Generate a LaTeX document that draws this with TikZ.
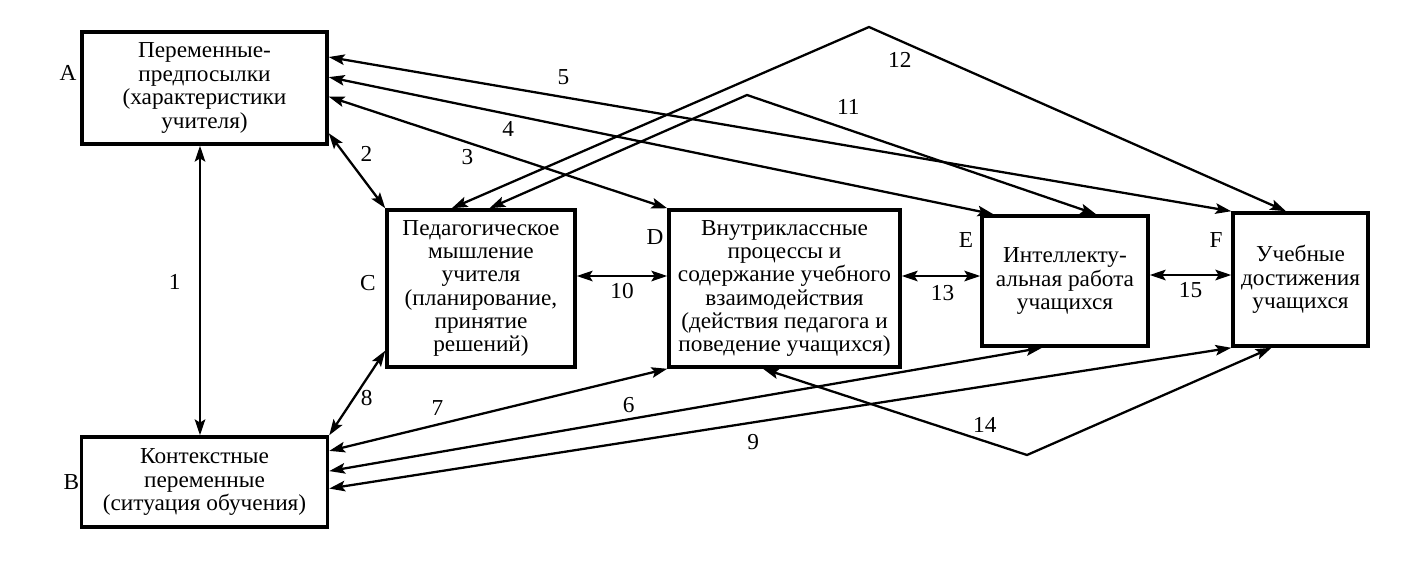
\documentclass[tikz,border=0pt]{standalone}
\usepackage{fontspec}
\setmainfont{Liberation Serif}[FakeStretch=1.02]
\usetikzlibrary{arrows.meta}
\usetikzlibrary{positioning}

\begin{document}
\begin{tikzpicture}[auto, node distance = 1cm, on grid, font = \fontsize{13}{13.3}\selectfont, >={Stealth[length = 9pt, width = 6pt, inset = 1.8pt]}, box/.style = {rectangle, draw, line width = 2pt, align = center, inner sep = 0pt}, link/.style = {<->, line width = 1.3pt}]
	\useasboundingbox (-4.09,1.76) rectangle (24.47,-9.58);
	\node[box, minimum width = 4.9cm, minimum height = 2.24cm] (A) {Переменные-\\предпосылки\\(характеристики\\учителя)};
	\node[box, minimum width = 4.92cm, minimum height = 1.8cm] (B) [below = 7.88cm of A] {Контекстные\\переменные\\(ситуация обучения)};
	\node[box, minimum width = 3.76cm, minimum height = 3.14cm] (C) [below right = 4.01cm and 5.53cm of A] {Педагогическое\\мышление\\учителя\\(планирование,\\принятие\\решений)};
	\node[box, minimum width = 4.62cm, minimum height = 3.14cm] (D) [right = 6.07cm of C] {Внутриклассные\\процессы и\\содержание учебного\\взаимодействия\\(действия педагога и\\поведение учащихся)};
	\node[box, minimum width = 3.32cm, minimum height = 2.6cm] (E) [right = 5.61cm of D, yshift = 0.15cm] {Интеллекту-\\альная работа\\учащихся};
	\node[box, minimum width = 2.7cm, minimum height = 2.66cm] (F) [right = 4.71cm of E, yshift = 0.03cm] {Учебные\\достижения\\учащихся};
	\node (la) [above left = 0.3cm and 2.73cm of A] {A};
	\node (lb) [left = 2.66cm of B] {B};
	\node (lc) [above left = 0.11cm and 2.26cm of C] {C};
	\node (ld) [above left = 1.03cm and 2.59cm of D] {D};
	\node (le) [above left = 0.82cm and 1.98cm of E] {E};
	\node (lf) [above left = 0.79cm and 1.69cm of F] {F};
	\coordinate (G) at (10.85,-0.14);
	\coordinate (H) at (13.29,1.22);
	\coordinate (I) at (16.45,-7.34);
	\draw[link] ([xshift = -0.09cm]A.south) -- node[pos = 0.47, left = 0.25cm]{1} ([xshift = -0.09cm]B.north);
	\draw[link] (A.-20) -- node[pos = 0.27, right = 0.19cm]{2} (C.north west);
	\draw[link] (A.-4) -- node[pos = 0.41, below = 0cm]{3} (D.north west);
	\draw[link] (A.5) -- node[pos = 0.27, below = 0cm]{4} (E.137);
	\draw[link] (A.14) -- node[pos = 0.26, above = 0.1cm]{5} (F.north west);
	\draw[link] (B.5) -- node[pos = 0.42, above = 0cm]{6} (E.251);
	\draw[link] (B.14) -- node[pos = 0.32, above = 0.05cm]{7} (D.south west);
	\draw[link] (B.north east) -- node[pos = 0.44, right = 0cm]{8} (C.213);
	\draw[link] (B.-3) -- node[pos = 0.47, below = 0.09cm]{9} (F.south west);
	\draw[link] ([yshift = 0.25cm]C.east) -- node[pos = 0.5, below = 0cm]{10} ([yshift = 0.25cm]D.west);
	\draw[link] (C.84) -- (G) -- node[pos = 0.29, above = 0.16cm]{11} (E.65);
	\draw[link] (C.110) -- (H) -- node[pos = 0.074, below = 0.1cm]{12} (F.102);
	\draw[link] ([yshift = 0.25cm]D.east) -- node[pos = 0.52, below = 0.05cm]{13} ([yshift = 0.1cm]E.west);
	\draw[link] (D.255) -- node[pos = 0.84, above = 0.03cm]{14} (I) -- (F.247);
	\draw[link] ([yshift = 0.12cm]E.east) -- node[pos = 0.5, below = 0cm]{15} ([yshift = 0.09cm]F.west);
\end{tikzpicture}
\end{document}
